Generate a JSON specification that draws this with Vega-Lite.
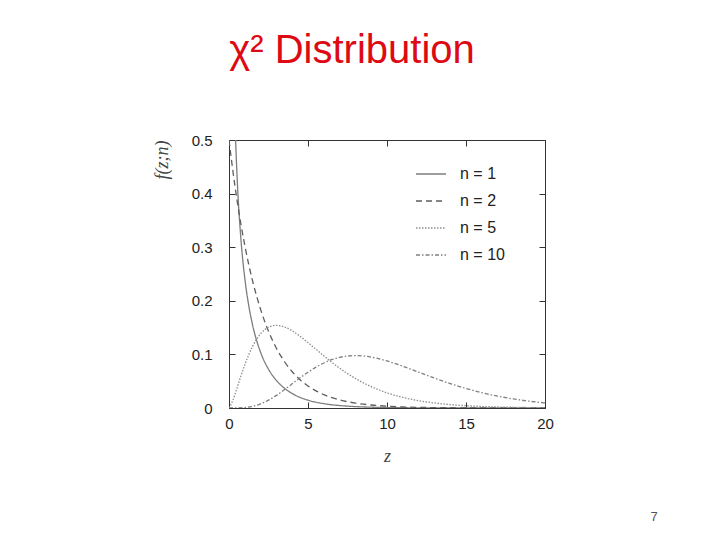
{
  "$schema": "https://vega.github.io/schema/vega-lite/v6.json",
  "width": 316,
  "height": 268,
  "autosize": {"type": "none"},
  "padding": {"left": 229, "top": 140, "right": 175, "bottom": 132},
  "background": "white",
  "title": {
    "text": "χ² Distribution",
    "color": "#dd0a14",
    "font": "Liberation Sans",
    "fontSize": 40,
    "fontWeight": "normal",
    "anchor": "middle",
    "dx": -35,
    "offset": 30,
    "baseline": "alphabetic"
  },
  "config": {
    "view": {"stroke": "#333", "strokeWidth": 1},
    "axis": {
      "grid": false,
      "domain": false,
      "tickSize": -6,
      "tickColor": "#333",
      "labelFlush": false,
      "labelFont": "Liberation Sans",
      "labelFontSize": 15,
      "labelColor": "#222",
      "titleFont": "Liberation Serif",
      "titleFontStyle": "italic",
      "titleFontWeight": "normal",
      "titleFontSize": 18,
      "titleColor": "#444"
    },
    "legend": {
      "orient": "none",
      "legendX": 186,
      "legendY": 18,
      "symbolType": "stroke",
      "symbolSize": 900,
      "symbolStrokeWidth": 1.5,
      "symbolStrokeColor": "#222",
      "labelFont": "Liberation Sans",
      "labelFontSize": 16,
      "labelColor": "#222",
      "labelOffset": 13,
      "padding": 0
    }
  },
  "layer": [
    {
      "data": {
        "values": [
          {"n": "n = 1", "z": 0.1, "f": 1.2},
          {"n": "n = 1", "z": 0.15, "f": 0.9556},
          {"n": "n = 1", "z": 0.2, "f": 0.8072},
          {"n": "n = 1", "z": 0.3, "f": 0.6269},
          {"n": "n = 1", "z": 0.4, "f": 0.5164},
          {"n": "n = 1", "z": 0.5, "f": 0.4394},
          {"n": "n = 1", "z": 0.75, "f": 0.3166},
          {"n": "n = 1", "z": 1, "f": 0.242},
          {"n": "n = 1", "z": 1.25, "f": 0.191},
          {"n": "n = 1", "z": 1.5, "f": 0.1539},
          {"n": "n = 1", "z": 2, "f": 0.1038},
          {"n": "n = 1", "z": 2.5, "f": 0.0723},
          {"n": "n = 1", "z": 3, "f": 0.0514},
          {"n": "n = 1", "z": 3.5, "f": 0.0371},
          {"n": "n = 1", "z": 4, "f": 0.027},
          {"n": "n = 1", "z": 4.5, "f": 0.0198},
          {"n": "n = 1", "z": 5, "f": 0.0146},
          {"n": "n = 1", "z": 6, "f": 0.0081},
          {"n": "n = 1", "z": 7, "f": 0.0046},
          {"n": "n = 1", "z": 8, "f": 0.0026},
          {"n": "n = 1", "z": 9, "f": 0.0015},
          {"n": "n = 1", "z": 10, "f": 0.00085},
          {"n": "n = 1", "z": 11, "f": 0.0005},
          {"n": "n = 1", "z": 12, "f": 0.0003},
          {"n": "n = 1", "z": 13, "f": 0.00017},
          {"n": "n = 1", "z": 14, "f": 0.0001},
          {"n": "n = 1", "z": 15, "f": 0.00006},
          {"n": "n = 1", "z": 16, "f": 0.00003},
          {"n": "n = 1", "z": 17, "f": 0.00002},
          {"n": "n = 1", "z": 18, "f": 0.00001},
          {"n": "n = 1", "z": 19, "f": 0.00001},
          {"n": "n = 1", "z": 20, "f": 0.0},
          {"n": "n = 2", "z": 0, "f": 0.5},
          {"n": "n = 2", "z": 0.25, "f": 0.4413},
          {"n": "n = 2", "z": 0.5, "f": 0.3894},
          {"n": "n = 2", "z": 0.75, "f": 0.3437},
          {"n": "n = 2", "z": 1, "f": 0.3033},
          {"n": "n = 2", "z": 1.25, "f": 0.2676},
          {"n": "n = 2", "z": 1.5, "f": 0.2362},
          {"n": "n = 2", "z": 2, "f": 0.1839},
          {"n": "n = 2", "z": 2.5, "f": 0.1433},
          {"n": "n = 2", "z": 3, "f": 0.1116},
          {"n": "n = 2", "z": 3.5, "f": 0.0869},
          {"n": "n = 2", "z": 4, "f": 0.0677},
          {"n": "n = 2", "z": 4.5, "f": 0.0527},
          {"n": "n = 2", "z": 5, "f": 0.041},
          {"n": "n = 2", "z": 5.5, "f": 0.032},
          {"n": "n = 2", "z": 6, "f": 0.0249},
          {"n": "n = 2", "z": 7, "f": 0.0151},
          {"n": "n = 2", "z": 8, "f": 0.0092},
          {"n": "n = 2", "z": 9, "f": 0.0056},
          {"n": "n = 2", "z": 10, "f": 0.0034},
          {"n": "n = 2", "z": 11, "f": 0.002},
          {"n": "n = 2", "z": 12, "f": 0.0012},
          {"n": "n = 2", "z": 13, "f": 0.00075},
          {"n": "n = 2", "z": 14, "f": 0.00046},
          {"n": "n = 2", "z": 15, "f": 0.00028},
          {"n": "n = 2", "z": 16, "f": 0.00017},
          {"n": "n = 2", "z": 17, "f": 0.0001},
          {"n": "n = 2", "z": 18, "f": 0.00006},
          {"n": "n = 2", "z": 19, "f": 0.00004},
          {"n": "n = 2", "z": 20, "f": 0.00002},
          {"n": "n = 5", "z": 0, "f": 0},
          {"n": "n = 5", "z": 0.25, "f": 0.0147},
          {"n": "n = 5", "z": 0.5, "f": 0.0366},
          {"n": "n = 5", "z": 0.75, "f": 0.0594},
          {"n": "n = 5", "z": 1, "f": 0.0807},
          {"n": "n = 5", "z": 1.5, "f": 0.1154},
          {"n": "n = 5", "z": 2, "f": 0.1384},
          {"n": "n = 5", "z": 2.5, "f": 0.1506},
          {"n": "n = 5", "z": 3, "f": 0.1542},
          {"n": "n = 5", "z": 3.5, "f": 0.1513},
          {"n": "n = 5", "z": 4, "f": 0.144},
          {"n": "n = 5", "z": 4.5, "f": 0.1338},
          {"n": "n = 5", "z": 5, "f": 0.122},
          {"n": "n = 5", "z": 5.5, "f": 0.1097},
          {"n": "n = 5", "z": 6, "f": 0.0973},
          {"n": "n = 5", "z": 6.5, "f": 0.0854},
          {"n": "n = 5", "z": 7, "f": 0.0744},
          {"n": "n = 5", "z": 7.5, "f": 0.0642},
          {"n": "n = 5", "z": 8, "f": 0.0551},
          {"n": "n = 5", "z": 8.5, "f": 0.047},
          {"n": "n = 5", "z": 9, "f": 0.0399},
          {"n": "n = 5", "z": 9.5, "f": 0.0337},
          {"n": "n = 5", "z": 10, "f": 0.0283},
          {"n": "n = 5", "z": 11, "f": 0.0198},
          {"n": "n = 5", "z": 12, "f": 0.0137},
          {"n": "n = 5", "z": 13, "f": 0.0094},
          {"n": "n = 5", "z": 14, "f": 0.0064},
          {"n": "n = 5", "z": 15, "f": 0.0043},
          {"n": "n = 5", "z": 16, "f": 0.0029},
          {"n": "n = 5", "z": 17, "f": 0.0019},
          {"n": "n = 5", "z": 18, "f": 0.0013},
          {"n": "n = 5", "z": 19, "f": 0.0008},
          {"n": "n = 5", "z": 20, "f": 0.0005},
          {"n": "n = 10", "z": 0, "f": 0},
          {"n": "n = 10", "z": 0.5, "f": 0.00006},
          {"n": "n = 10", "z": 1, "f": 0.0008},
          {"n": "n = 10", "z": 1.5, "f": 0.0031},
          {"n": "n = 10", "z": 2, "f": 0.0077},
          {"n": "n = 10", "z": 2.5, "f": 0.0146},
          {"n": "n = 10", "z": 3, "f": 0.0235},
          {"n": "n = 10", "z": 3.5, "f": 0.034},
          {"n": "n = 10", "z": 4, "f": 0.0451},
          {"n": "n = 10", "z": 4.5, "f": 0.0563},
          {"n": "n = 10", "z": 5, "f": 0.0668},
          {"n": "n = 10", "z": 5.5, "f": 0.0762},
          {"n": "n = 10", "z": 6, "f": 0.084},
          {"n": "n = 10", "z": 6.5, "f": 0.0901},
          {"n": "n = 10", "z": 7, "f": 0.0944},
          {"n": "n = 10", "z": 7.5, "f": 0.0969},
          {"n": "n = 10", "z": 8, "f": 0.0977},
          {"n": "n = 10", "z": 8.5, "f": 0.097},
          {"n": "n = 10", "z": 9, "f": 0.0949},
          {"n": "n = 10", "z": 9.5, "f": 0.0918},
          {"n": "n = 10", "z": 10, "f": 0.0877},
          {"n": "n = 10", "z": 11, "f": 0.0779},
          {"n": "n = 10", "z": 12, "f": 0.0669},
          {"n": "n = 10", "z": 13, "f": 0.0559},
          {"n": "n = 10", "z": 14, "f": 0.0456},
          {"n": "n = 10", "z": 15, "f": 0.0365},
          {"n": "n = 10", "z": 16, "f": 0.0286},
          {"n": "n = 10", "z": 17, "f": 0.0221},
          {"n": "n = 10", "z": 18, "f": 0.0169},
          {"n": "n = 10", "z": 19, "f": 0.0127},
          {"n": "n = 10", "z": 20, "f": 0.0095}
        ]
      },
      "mark": {"type": "line", "clip": true, "strokeWidth": 1.3, "interpolate": "monotone"},
      "encoding": {
        "x": {
          "field": "z",
          "type": "quantitative",
          "scale": {"domain": [0, 20], "nice": false, "zero": false},
          "axis": {"values": [0, 5, 10, 15, 20], "title": "z", "labelPadding": 14, "titlePadding": 16}
        },
        "y": {
          "field": "f",
          "type": "quantitative",
          "scale": {"domain": [0, 0.5], "nice": false},
          "axis": {
            "values": [0, 0.1, 0.2, 0.3, 0.4, 0.5],
            "format": "~g",
            "labelPadding": 23,
            "title": "f(z;n)",
            "titleX": -62,
            "titleY": 0,
            "titleAngle": -90,
            "titleAlign": "right",
            "titleBaseline": "alphabetic"
          }
        },
        "color": {
          "field": "n",
          "type": "nominal",
          "scale": {"domain": ["n = 1", "n = 2", "n = 5", "n = 10"], "range": ["#7d7d7d", "#5e5e5e", "#8e8e8e", "#808080"]},
          "legend": {"title": null, "rowPadding": 3}
        },
        "strokeDash": {
          "field": "n",
          "type": "nominal",
          "scale": {"domain": ["n = 1", "n = 2", "n = 5", "n = 10"], "range": [[1, 0], [6, 4], [1.5, 1.5], [4, 2, 1.5, 2]]},
          "legend": {"title": null, "rowPadding": 3}
        }
      }
    },
    {
      "data": {"values": [{"page": "7"}]},
      "mark": {"type": "text", "clip": false, "font": "Liberation Sans", "fontSize": 13, "color": "#555", "align": "center", "baseline": "middle"},
      "encoding": {
        "x": {"datum": 26.9, "type": "quantitative", "axis": {"orient": "top", "values": [0, 5, 10, 15, 20], "labels": false, "title": null}},
        "y": {"datum": -0.203, "type": "quantitative", "axis": {"orient": "right", "values": [0, 0.1, 0.2, 0.3, 0.4, 0.5], "labels": false, "title": null}},
        "text": {"field": "page", "type": "nominal"}
      }
    }
  ],
  "resolve": {"axis": {"x": "independent", "y": "independent"}}
}
